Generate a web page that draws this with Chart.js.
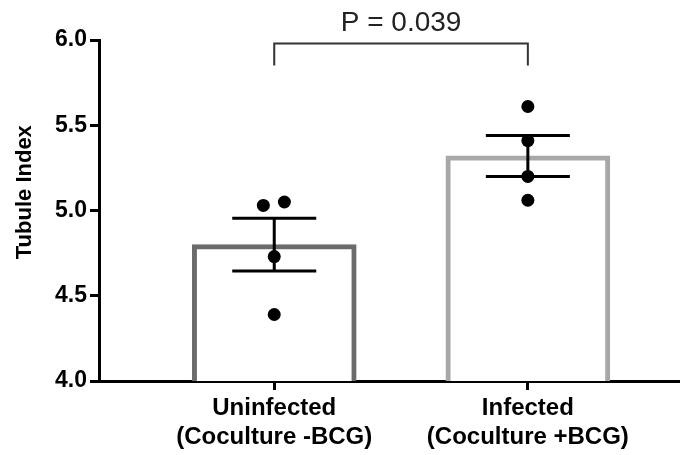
<!DOCTYPE html>
<html>
<head>
<meta charset="utf-8">
<script src="https://cdn.jsdelivr.net/npm/chart.js@4.4.0/dist/chart.umd.min.js"></script>
<style>
	html, body { margin: 0; padding: 0; background: #fff; }
	#wrap { width: 685px; height: 455px; }
</style>
</head>
<body>
<div id="wrap"><canvas id="canvas" width="685" height="455"></canvas></div>
<script>
// groups + summary values (mean +/- SEM)
var groups   = [['Uninfected', '(Coculture -BCG)'], ['Infected', '(Coculture +BCG)']];
var groupX   = [1, 2];
var means    = [4.80, 5.32];
var sems     = [0.155, 0.12];
var barColors = ['#6b6b6b', '#a8a8aa'];

// individual replicates (x jitter so overlapping dots sit side by side)
var uninfectedPts    = [5.03, 5.05, 4.73, 4.39];
var uninfectedJitter = [-0.043, 0.04, 0, 0];
var infectedPts      = [5.61, 5.41, 5.20, 5.06];
var infectedJitter   = [0, 0, 0, 0];

var yTicks = [4.0, 4.5, 5.0, 5.5, 6.0];
var pLabel = 'P = 0.039';

var FONT = "'Liberation Sans', Arial, sans-serif";
Chart.defaults.font.family = FONT;

var points = [];
uninfectedPts.forEach(function(v, i) { points.push({ x: groupX[0] + uninfectedJitter[i], y: v }); });
infectedPts.forEach(function(v, i) { points.push({ x: groupX[1] + infectedJitter[i], y: v }); });

var extras = {
	id: 'extras',
	afterDatasetsDraw: function(chart) {
		var ctx = chart.ctx, xs = chart.scales.x, ys = chart.scales.y;
		ctx.save();
		ctx.strokeStyle = '#000';
		ctx.lineWidth = 3;
		for (var i = 0; i < means.length; i++) {
			var cx  = xs.getPixelForValue(groupX[i]);
			var top = ys.getPixelForValue(means[i] + sems[i]);
			var bot = ys.getPixelForValue(means[i] - sems[i]);
			ctx.beginPath();
			ctx.moveTo(cx, top); ctx.lineTo(cx, bot);
			ctx.moveTo(cx - 42, top); ctx.lineTo(cx + 42, top);
			ctx.moveTo(cx - 42, bot); ctx.lineTo(cx + 42, bot);
			ctx.stroke();
		}
		ctx.restore();
	},
	afterDraw: function(chart) {
		// significance bracket
		var ctx = chart.ctx, xs = chart.scales.x, ys = chart.scales.y;
		var x1 = xs.getPixelForValue(groupX[0]);
		var x2 = xs.getPixelForValue(groupX[1]);
		var yt = ys.getPixelForValue(5.98);
		var yb = ys.getPixelForValue(5.85);
		ctx.save();
		ctx.strokeStyle = '#333';
		ctx.lineWidth = 2;
		ctx.beginPath();
		ctx.moveTo(x1, yb); ctx.lineTo(x1, yt); ctx.lineTo(x2, yt); ctx.lineTo(x2, yb);
		ctx.stroke();
		ctx.fillStyle = '#222';
		ctx.font = '28px ' + FONT;
		ctx.textAlign = 'center';
		ctx.textBaseline = 'middle';
		ctx.fillText(pLabel, (x1 + x2) / 2, ys.getPixelForValue(6.1));
		ctx.restore();
	}
};

var ctx = document.getElementById('canvas').getContext('2d');
var chart = new Chart(ctx, {
	type: 'bar',
	data: {
		datasets: [
			{
				type: 'scatter',
				data: points,
				pointRadius: 6.5,
				pointBackgroundColor: '#000',
				pointBorderWidth: 0,
				order: 1
			},
			{
				type: 'bar',
				data: groupX.map(function(x, i) { return { x: x, y: means[i] }; }),
				backgroundColor: '#fff',
				borderColor: barColors,
				borderWidth: 5,
				borderSkipped: 'bottom',
				barThickness: 164,
				order: 2
			}
		]
	},
	options: {
		responsive: false,
		animation: false,
		layout: { padding: { top: 40, right: 0, bottom: 0, left: 0 } },
		plugins: {
			legend: { display: false },
			tooltip: { enabled: false }
		},
		scales: {
			x: {
				type: 'linear',
				min: 0.309,
				max: 2.594,
				offset: false,
				afterBuildTicks: function(s) { s.ticks = groupX.map(function(v) { return { value: v }; }); },
				afterFit: function(s) { s.height = 74; },
				ticks: {
					callback: function(v, i) { return groups[i]; },
					font: { size: 24, weight: 'bold' },
					color: '#000',
					padding: 4,
					maxRotation: 0,
					autoSkip: false
				},
				grid: { offset: false, drawOnChartArea: false, drawTicks: true, tickLength: 9, color: '#000', lineWidth: 3 },
				border: { color: '#000', width: 3 }
			},
			y: {
				min: 4,
				max: 6,
				afterBuildTicks: function(s) { s.ticks = yTicks.map(function(v) { return { value: v }; }); },
				afterFit: function(s) { s.width = 99; },
				ticks: {
					callback: function(v) { return v.toFixed(1); },
					font: { size: 23, weight: 'bold' },
					color: '#000',
					padding: 3
				},
				grid: { drawOnChartArea: false, drawTicks: true, tickLength: 9, color: '#000', lineWidth: 3 },
				border: { color: '#000', width: 3 },
				title: {
					display: true,
					text: '      Tubule Index',
					font: { size: 22, weight: 'bold' },
					color: '#000',
					padding: { top: 12, bottom: 0 }
				}
			}
		}
	},
	plugins: [extras]
});
</script>
</body>
</html>
